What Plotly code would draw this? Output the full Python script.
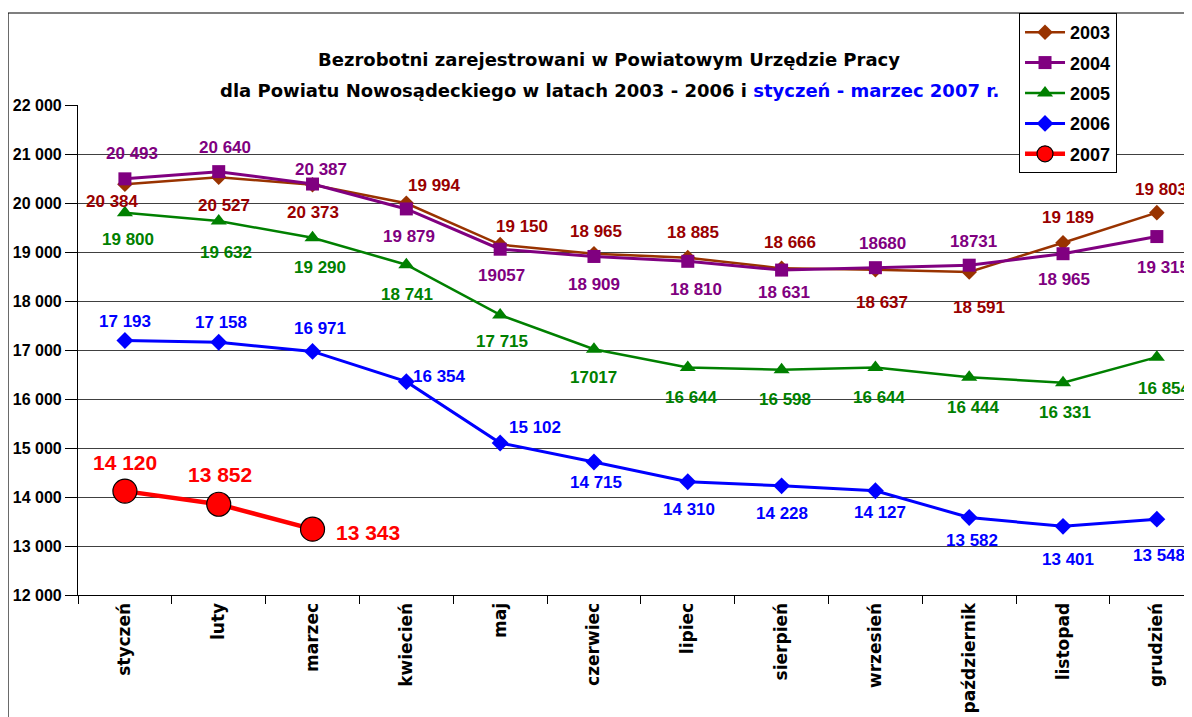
import plotly.graph_objects as go

months = ["styczeń", "luty", "marzec", "kwiecień", "maj", "czerwiec", "lipiec",
          "sierpień", "wrzesień", "październik", "listopad", "grudzień"]

v2003 = [20384, 20527, 20373, 19994, 19150, 18965, 18885, 18666, 18637, 18591, 19189, 19803]
v2004 = [20493, 20640, 20387, 19879, 19057, 18909, 18810, 18631, 18680, 18731, 18965, 19315]
v2005 = [19800, 19632, 19290, 18741, 17715, 17017, 16644, 16598, 16644, 16444, 16331, 16854]
v2006 = [17193, 17158, 16971, 16354, 15102, 14715, 14310, 14228, 14127, 13582, 13401, 13548]
v2007 = [14120, 13852, 13343]

t2003 = ["20 384", "20 527", "20 373", "19 994", "19 150", "18 965", "18 885", "18 666", "18 637", "18 591", "19 189", "19 803"]
t2004 = ["20 493", "20 640", "20 387", "19 879", "19057", "18 909", "18 810", "18 631", "18680", "18731", "18 965", "19 315"]
t2005 = ["19 800", "19 632", "19 290", "18 741", "17 715", "17017", "16 644", "16 598", "16 644", "16 444", "16 331", "16 854"]
t2006 = ["17 193", "17 158", "16 971", "16 354", "15 102", "14 715", "14 310", "14 228", "14 127", "13 582", "13 401", "13 548"]
t2007 = ["14 120", "13 852", "13 343"]

# label offsets (dx, dy) in pixels relative to the point (dy positive = downward)
off2003 = [(-12, 17), (5, 28), (0, 28), (28, -18), (22, -18), (2, -22), (5, -25), (8, -26), (7, 33), (10, 35), (5, -25), (4, -23)]
off2004 = [(7, -25), (6, -24), (8, -15), (3, 28), (1, 26), (0, 28), (8, 28), (2, 22), (7, -24), (4, -24), (1, 26), (6, 31)]
off2005 = [(3, 27), (7, 31), (7, 30), (1, 30), (2, 27), (0, 28), (4, 30), (3, 30), (4, 30), (4, 30), (2, 30), (8, 31)]
off2006 = [(0, -19), (2, -20), (7, -23), (33, -5), (35, -16), (2, 21), (1, 28), (0, 28), (5, 22), (3, 23), (5, 33), (2, 36)]
off2007 = [(0, -29), (1, -30), (55, 3)]

NUMFONT = "Liberation Sans, Arial, sans-serif"
TXTFONT = "DejaVu Sans, Verdana, sans-serif"

series = [
    ("2003", v2003, t2003, off2003, "#993300", "#990000", "diamond", 12, 2.5, 17),
    ("2004", v2004, t2004, off2004, "#800080", "#800080", "square", 13, 3, 17),
    ("2005", v2005, t2005, off2005, "#008000", "#008000", "triangle-up", 14, 2.5, 17),
    ("2006", v2006, t2006, off2006, "#0000FF", "#0000FF", "diamond", 13, 3, 17),
    ("2007", v2007, t2007, off2007, "#FF0000", "#FF0000", "circle", 24, 4.5, 21),
]

fig = go.Figure()
annotations = []
for name, vals, texts, offs, color, lcolor, sym, msize, lw, fsize in series:
    xs = months[:len(vals)]
    mline = dict(color="black", width=1.2) if name == "2007" else dict(width=0)
    fig.add_trace(go.Scatter(
        x=xs, y=vals, name=name, mode="lines+markers", legendgroup=name,
        line=dict(color=color, width=lw),
        marker=dict(symbol=sym, size=msize, color=color, line=mline),
    ))
    for x, y, t, (dx, dy) in zip(xs, vals, texts, offs):
        annotations.append(dict(
            x=x, y=y, xref="x", yref="y", text=t, showarrow=False,
            xshift=dx, yshift=-dy,
            font=dict(family=NUMFONT, size=fsize, color=lcolor, weight="bold"),
        ))

annotations.append(dict(
    x=0.4737, y=1.1184, xref="paper", yref="paper", showarrow=False,
    text="Bezrobotni zarejestrowani w Powiatowym Urzędzie Pracy",
    font=dict(family=TXTFONT, size=18, color="black", weight="bold"),
))
annotations.append(dict(
    x=0.4737, y=1.0551, xref="paper", yref="paper", showarrow=False,
    text="dla Powiatu Nowosądeckiego w latach 2003 - 2006 i "
         "<span style='color:#0000FF'>styczeń - marzec 2007 r.</span>",
    font=dict(family=TXTFONT, size=18, color="black", weight="bold"),
))

shapes = [
    dict(type="line", xref="paper", yref="paper", x0=-0.0624, x1=-0.0624, y0=1.1878, y1=-0.3,
         line=dict(color="black", width=1.2)),
    dict(type="line", xref="paper", yref="paper", x0=-0.0624, x1=1.02, y0=1.1878, y1=1.1878,
         line=dict(color="black", width=1.2)),
]

fig.update_layout(
    width=1192, height=717,
    margin=dict(l=70, r=0, t=97, b=130, autoexpand=False),
    paper_bgcolor="white", plot_bgcolor="white",
    separators=". ",
    annotations=annotations,
    shapes=shapes,
    showlegend=True,
    legend=dict(
        x=0.8387, xanchor="left", y=1.1878, yanchor="top",
        bgcolor="white", bordercolor="black", borderwidth=1,
        font=dict(family=NUMFONT, size=18, color="black", weight="bold"),
        traceorder="grouped", tracegroupgap=4, itemwidth=40,
    ),
    xaxis=dict(
        type="category", categoryorder="array", categoryarray=months,
        range=[-0.5, 11.46], tickangle=-90,
        ticks="outside", tickson="boundaries", ticklen=8, tickcolor="black",
        showline=True, linecolor="black", linewidth=1.2, showgrid=False,
        tickfont=dict(family=TXTFONT, size=17, color="black", weight="bold"),
        automargin=False,
    ),
    yaxis=dict(
        range=[12000, 22000], dtick=1000, tickformat=",d",
        ticks="outside", ticklen=12, tickcolor="black",
        showline=True, linecolor="black", linewidth=1.2,
        showgrid=True, gridcolor="#404040", gridwidth=1,
        tickfont=dict(family=NUMFONT, size=16, color="black", weight="bold"),
        automargin=False, zeroline=False,
    ),
)

fig.write_html("out.html")
